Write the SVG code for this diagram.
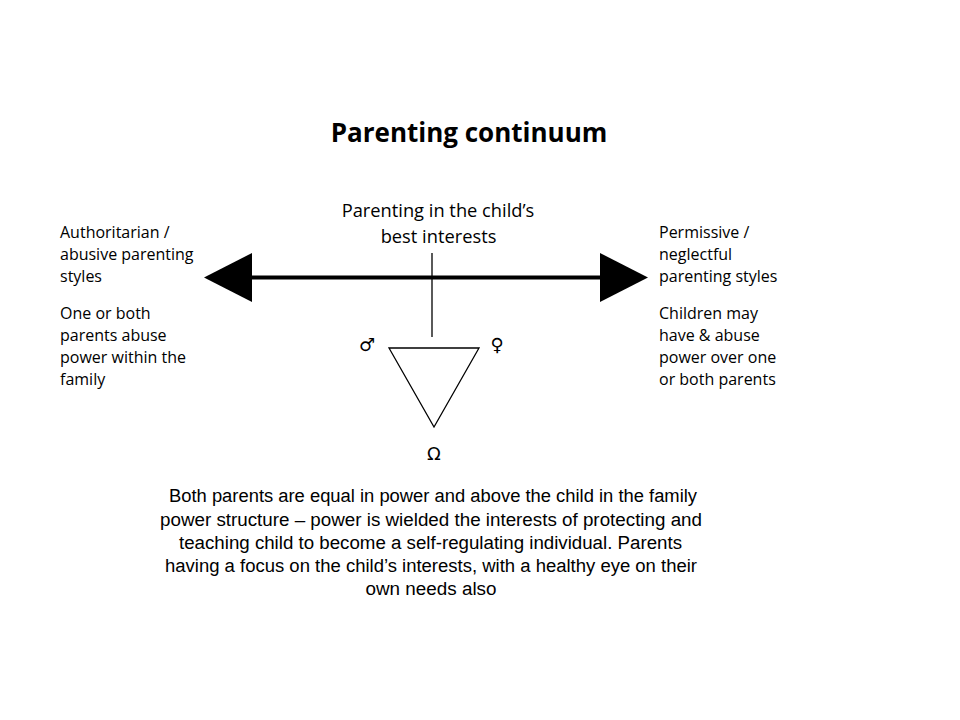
<svg xmlns="http://www.w3.org/2000/svg" width="960" height="720" viewBox="0 0 960 720">
<style>
.c{font-family:"Open Sans","Liberation Sans",sans-serif;font-size:16px;fill:#000}
.m{font-family:"Open Sans","Liberation Sans",sans-serif;font-size:18.3px;fill:#000;text-anchor:middle}
.p{font-family:"Liberation Sans",Arial,sans-serif;font-size:18px;fill:#000;text-anchor:middle}
.s{font-family:"DejaVu Sans",sans-serif;font-size:18px;fill:#000;text-anchor:middle}
</style>
<rect width="960" height="720" fill="#fff"/>
<text x="469" y="142" font-family="Open Sans, Liberation Sans, sans-serif" font-size="26" font-weight="bold" text-anchor="middle">Parenting continuum</text>
<g id="connectors">
<line x1="248" y1="277.5" x2="604" y2="277.5" stroke="#000" stroke-width="4"/>
<polygon points="204,277.5 252,253 252,302" fill="#000"/>
<polygon points="648,277.5 600,253 600,302" fill="#000"/>
<line x1="432" y1="253" x2="432" y2="337" stroke="#000" stroke-width="1.3"/>
</g>
<g id="center-label">
<text class="m" x="438" y="217">Parenting in the child’s</text>
<text class="m" x="438.5" y="243">best interests</text>
</g>
<g id="left">
<text class="c" x="60" y="238">Authoritarian /</text>
<text class="c" x="60" y="260">abusive parenting</text>
<text class="c" x="60" y="282">styles</text>
<text class="c" x="60" y="319">One or both</text>
<text class="c" x="60" y="341">parents abuse</text>
<text class="c" x="60" y="363">power within the</text>
<text class="c" x="60" y="385">family</text>
</g>
<g id="right">
<text class="c" x="659" y="238">Permissive /</text>
<text class="c" x="659" y="260">neglectful</text>
<text class="c" x="659" y="282">parenting styles</text>
<text class="c" x="659" y="319">Children may</text>
<text class="c" x="659" y="341">have &amp; abuse</text>
<text class="c" x="659" y="363">power over one</text>
<text class="c" x="659" y="385">or both parents</text>
</g>
<g id="family">
<polygon points="389,348 479,348 434,427" fill="none" stroke="#000" stroke-width="1.3"/>
<text class="s" x="367" y="351">♂</text>
<text class="s" x="497" y="351">♀</text>
<text class="s" x="434" y="460">Ω</text>
</g>
<g id="description">
<text class="p" x="433" y="502" textLength="528" lengthAdjust="spacingAndGlyphs">Both parents are equal in power and above the child in the family</text>
<text class="p" x="431" y="526" textLength="542" lengthAdjust="spacingAndGlyphs">power structure – power  is wielded the interests of protecting and</text>
<text class="p" x="430.5" y="549" textLength="503" lengthAdjust="spacingAndGlyphs">teaching child to become a self-regulating individual. Parents</text>
<text class="p" x="431" y="572" textLength="532" lengthAdjust="spacingAndGlyphs">having a focus on the child’s interests, with a healthy eye on their</text>
<text class="p" x="431" y="595" textLength="131" lengthAdjust="spacingAndGlyphs">own needs also</text>
</g>
</svg>
